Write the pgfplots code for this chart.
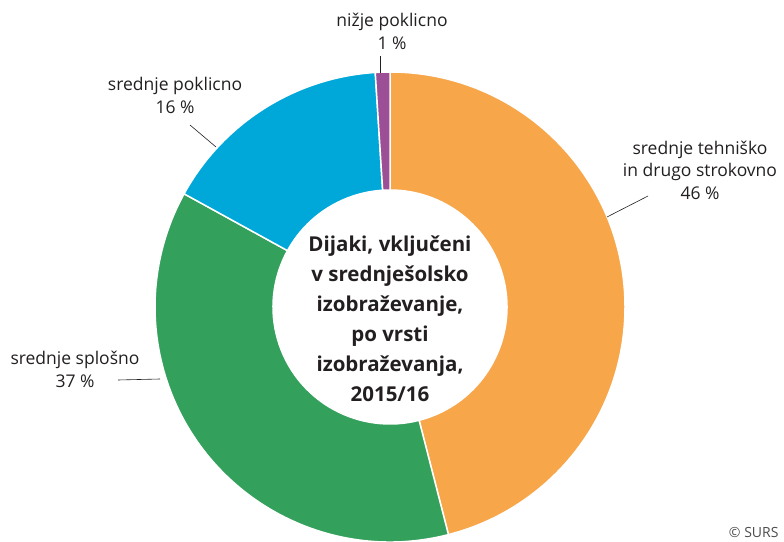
\documentclass[border=0pt]{standalone}
\usepackage{pgfplots}
\pgfplotsset{compat=1.18}
\usepackage{pgfplotstable}
\usepackage{fontspec}
\setmainfont{Open Sans}
\definecolor{cOrange}{HTML}{F7A64A}
\definecolor{cGreen}{HTML}{33A05B}
\definecolor{cBlue}{HTML}{00A8DA}
\definecolor{cPurple}{HTML}{9C4F96}
\definecolor{txt}{HTML}{231F20}
\pgfplotstableread{
share col
46 cOrange
37 cGreen
16 cBlue
1 cPurple
}\datatable
\begin{document}
\begin{tikzpicture}
\begin{axis}[name=ax, x=1pt,y=1pt,xmin=0,xmax=784,ymin=0,ymax=541,hide axis,
  scale only axis, clip=false]
\def\cx{390}\def\cy{234}\def\R{235}\def\r{117}
\def\cum{90}
\pgfplotsforeachungrouped \i in {0,...,3}{%
  \pgfplotstablegetelem{\i}{share}\of\datatable \let\v\pgfplotsretval
  \pgfplotstablegetelem{\i}{col}\of\datatable \let\c\pgfplotsretval
  \pgfmathsetmacro\a{\cum}%
  \pgfmathsetmacro\b{\cum-3.6*\v}%
  \pgfmathsetmacro\xo{\cx+\R*cos(\a)}%
  \pgfmathsetmacro\yo{\cy+\R*sin(\a)}%
  \pgfmathsetmacro\xi{\cx+\r*cos(\b)}%
  \pgfmathsetmacro\yi{\cy+\r*sin(\b)}%
  \edef\tmp{\noexpand\fill[\c, draw=white, line width=1.5pt, line join=round]
    (axis cs:\xo,\yo) arc[start angle=\a, end angle=\b, radius=\R pt]
    -- (axis cs:\xi,\yi) arc[start angle=\b, end angle=\a, radius=\r pt] -- cycle;}%
  \tmp
  \global\let\cum\b
}
\draw[txt, line width=0.6pt] (axis cs:380,485) -- (axis cs:380,468);
\draw[txt, line width=0.6pt] (axis cs:190,416) -- (axis cs:216,394);
\draw[txt, line width=0.6pt] (axis cs:648,345) -- (axis cs:607,324);
\draw[txt, line width=0.6pt] (axis cs:118,161) -- (axis cs:160,162);
\node[txt, align=center, font=\fontsize{17.5}{22.5}\selectfont] at (axis cs:392,509.5) {nižje poklicno\\1 \%};
\node[txt, align=center, font=\fontsize{17.5}{22.5}\selectfont] at (axis cs:175,445.5) {srednje poklicno\\16 \%};
\node[txt, align=center, font=\fontsize{17.5}{22.5}\selectfont] at (axis cs:700,371) {srednje tehniško\\in drugo strokovno\\46 \%};
\node[txt, align=center, font=\fontsize{17.5}{22.5}\selectfont] at (axis cs:75,171.5) {srednje splošno\\37 \%};
\node[txt, align=center, font=\bfseries\fontsize{20.5}{30}\selectfont] at (axis cs:390,222) {Dijaki, vključeni\\v srednješolsko\\izobraževanje,\\po vrsti\\izobraževanja,\\2015/16};
\node[black!70, anchor=east, font=\fontsize{14}{16}\selectfont] at (axis cs:782,9) {© SURS};
\end{axis}
\pgfresetboundingbox
\path (ax.south west) rectangle (ax.north east);
\end{tikzpicture}
\end{document}
